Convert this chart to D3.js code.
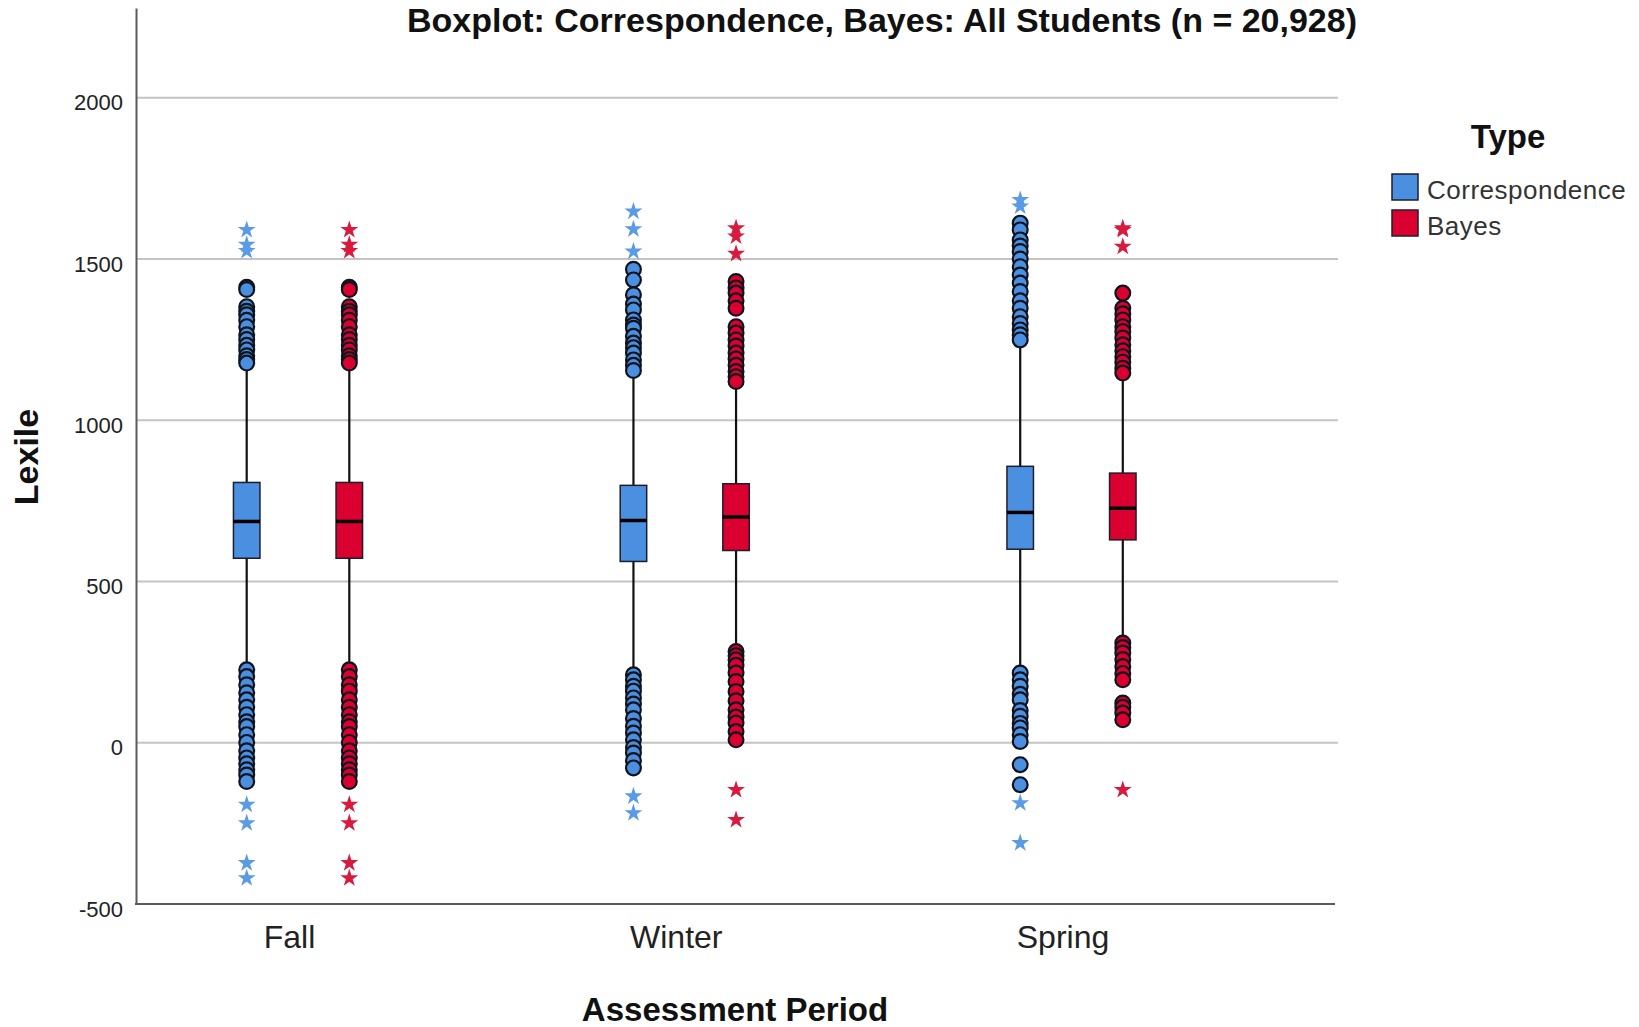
<!DOCTYPE html>
<html>
<head>
<meta charset="utf-8">
<script src="https://cdn.jsdelivr.net/npm/d3@7"></script>
<style>
  body { margin: 0; background: #fff; }
  text { font-family: "Liberation Sans", Arial, sans-serif; }
</style>
</head>
<body>
<div id="chart"></div>
<script>
const periods = ['Fall', 'Winter', 'Spring'];
const types = ['Correspondence', 'Bayes'];
const yTicks = [-500, 0, 500, 1000, 1500, 2000];

// box statistics, one value per period
const corrQ1 = [572, 562, 600];
const corrMedian = [686, 689, 714];
const corrQ3 = [807, 798, 857];
const corrLow = [240, 222, 222];
const corrHigh = [1165, 1148, 1244];

const bayesQ1 = [572, 596, 629];
const bayesMedian = [686, 700, 727];
const bayesQ3 = [807, 803, 836];
const bayesLow = [240, 300, 312];
const bayesHigh = [1165, 1115, 1143];

// outliers (circles), per period
const corrOutliers = [
  [1412, 1405, 1352, 1338, 1327, 1310, 1290, 1265, 1250, 1232, 1218, 1200, 1188, 1177,
   226, 205, 180, 155, 133, 110, 87, 65, 50, 25, 1, -25, -47, -65, -84, -100, -120],
  [1468, 1435, 1389, 1360, 1342, 1311, 1295, 1285, 1260, 1239, 1225, 1208, 1187, 1170, 1154,
   211, 195, 175, 160, 139, 120, 102, 75, 51, 30, 9, -15, -32, -55, -78],
  [1611, 1590, 1559, 1540, 1523, 1500, 1476, 1450, 1425, 1399, 1370, 1347, 1321, 1300, 1280, 1265, 1249,
   216, 195, 175, 150, 133, 100, 82, 60, 46, 25, 4, -68, -130],
];
const bayesOutliers = [
  [1412, 1405, 1352, 1338, 1327, 1310, 1290, 1265, 1250, 1232, 1218, 1200, 1188, 1177,
   226, 205, 180, 160, 133, 110, 87, 65, 50, 25, 1, -25, -47, -65, -84, -100, -120],
  [1430, 1410, 1394, 1370, 1347, 1290, 1270, 1249, 1230, 1208, 1190, 1170, 1151, 1135, 1120,
   283, 270, 257, 240, 216, 190, 159, 130, 102, 80, 61, 35, 9],
  [1394, 1347, 1330, 1311, 1290, 1275, 1255, 1234, 1215, 1197, 1180, 1161, 1146,
   309, 295, 278, 258, 236, 215, 195, 123, 110, 92, 71],
];

// extremes (stars), per period
const corrExtremes = [
  [1590, 1544, 1525, -192, -249, -373, -420],
  [1647, 1592, 1523, -166, -218],
  [1683, 1663, -187, -311],
];
const bayesExtremes = [
  [1590, 1544, 1525, -192, -249, -373, -420],
  [1595, 1570, 1516, -146, -239],
  [1595, 1590, 1538, -146],
];

const fills = { Correspondence: '#4a8fe0', Bayes: '#da0030' };
const starFills = { Correspondence: '#5b9be6', Bayes: '#d81a3e' };

const width = 1639;
const height = 1027;
const plotLeft = 136;
const plotRight = 1338;

const boxes = [];
const points = [];
periods.forEach(function (p, i) {
  boxes.push({ period: p, type: 'Correspondence', q1: corrQ1[i], med: corrMedian[i], q3: corrQ3[i], lo: corrLow[i], hi: corrHigh[i] });
  boxes.push({ period: p, type: 'Bayes', q1: bayesQ1[i], med: bayesMedian[i], q3: bayesQ3[i], lo: bayesLow[i], hi: bayesHigh[i] });
  corrOutliers[i].forEach((v) => points.push({ period: p, type: 'Correspondence', value: v, star: false }));
  bayesOutliers[i].forEach((v) => points.push({ period: p, type: 'Bayes', value: v, star: false }));
  corrExtremes[i].forEach((v) => points.push({ period: p, type: 'Correspondence', value: v, star: true }));
  bayesExtremes[i].forEach((v) => points.push({ period: p, type: 'Bayes', value: v, star: true }));
});

let svg = d3.select('#chart').append('svg').attr('width', width).attr('height', height);

let y = d3.scaleLinear().domain([-500, 2278]).range([904, 8]);
let x = d3.scalePoint().domain(periods).range([298, 1071.5]);
let xType = d3.scaleBand().domain(types).range([-102.6, 102.6]);
const boxW = 26.5;

function cx(d) {
  return x(d.period) + xType(d.type) + xType.bandwidth() / 2;
}

// gridlines
svg
  .append('g')
  .selectAll('line')
  .data(yTicks.filter((t) => t > -500))
  .enter()
  .append('line')
  .attr('x1', plotLeft)
  .attr('x2', plotRight)
  .attr('y1', (d) => y(d))
  .attr('y2', (d) => y(d))
  .attr('stroke', '#c4c4c4')
  .attr('stroke-width', 2);

// y axis
let yAxis = svg
  .append('g')
  .attr('transform', 'translate(' + plotLeft + ',0)')
  .call(
    d3
      .axisLeft(y)
      .tickValues(yTicks)
      .tickFormat((d) => String(d))
      .tickSize(0)
      .tickSizeOuter(0)
      .tickPadding(13),
  );
yAxis.select('.domain').attr('stroke', '#5a5a5a').attr('stroke-width', 2);
yAxis.selectAll('text').attr('font-size', 22).attr('fill', '#222').attr('dy', '0.55em');

// x axis
svg
  .append('line')
  .attr('x1', plotLeft - 1)
  .attr('x2', plotRight - 3)
  .attr('y1', y(-500))
  .attr('y2', y(-500))
  .attr('stroke', '#5a5a5a')
  .attr('stroke-width', 2);
let xAxis = svg
  .append('g')
  .attr('transform', 'translate(0,' + y(-500) + ')')
  .call(d3.axisBottom(x).tickSize(0).tickPadding(21));
xAxis.select('.domain').remove();
xAxis.selectAll('text').attr('font-size', 32).attr('fill', '#222').attr('dx', -9);

// whiskers
svg
  .append('g')
  .selectAll('line')
  .data(boxes)
  .enter()
  .append('line')
  .attr('x1', cx)
  .attr('x2', cx)
  .attr('y1', (d) => y(d.lo))
  .attr('y2', (d) => y(d.hi))
  .attr('stroke', '#111')
  .attr('stroke-width', 2.2);

// boxes
let boxG = svg.append('g').selectAll('g').data(boxes).enter().append('g');
boxG
  .append('rect')
  .attr('x', (d) => cx(d) - boxW / 2)
  .attr('width', boxW)
  .attr('y', (d) => y(d.q3))
  .attr('height', (d) => y(d.q1) - y(d.q3))
  .attr('fill', (d) => fills[d.type])
  .attr('stroke', '#1e1e2a')
  .attr('stroke-width', 1.5);
boxG
  .append('line')
  .attr('x1', (d) => cx(d) - boxW / 2)
  .attr('x2', (d) => cx(d) + boxW / 2)
  .attr('y1', (d) => y(d.med))
  .attr('y2', (d) => y(d.med))
  .attr('stroke', '#000')
  .attr('stroke-width', 3.5);

// outliers
svg
  .append('g')
  .selectAll('circle')
  .data(points.filter((d) => !d.star))
  .enter()
  .append('circle')
  .attr('cx', cx)
  .attr('cy', (d) => y(d.value))
  .attr('r', 7.4)
  .attr('fill', (d) => fills[d.type])
  .attr('stroke', '#10131c')
  .attr('stroke-width', 2.2);

// extremes
let star = d3.symbol().type(d3.symbolStar).size(100);
svg
  .append('g')
  .selectAll('path')
  .data(points.filter((d) => d.star))
  .enter()
  .append('path')
  .attr('d', star)
  .attr('transform', (d) => 'translate(' + cx(d) + ',' + y(d.value) + ')')
  .attr('fill', (d) => starFills[d.type]);

// titles
svg
  .append('text')
  .attr('x', 882)
  .attr('y', 32)
  .attr('text-anchor', 'middle')
  .attr('font-size', 34)
  .attr('font-weight', 'bold')
  .attr('fill', '#111')
  .text('Boxplot: Correspondence, Bayes: All Students (n = 20,928)');

svg
  .append('text')
  .attr('x', 735)
  .attr('y', 1021)
  .attr('text-anchor', 'middle')
  .attr('font-size', 33)
  .attr('font-weight', 'bold')
  .attr('fill', '#111')
  .text('Assessment Period');

svg
  .append('text')
  .attr('transform', 'translate(38,457) rotate(-90)')
  .attr('text-anchor', 'middle')
  .attr('font-size', 34)
  .attr('font-weight', 'bold')
  .attr('fill', '#111')
  .text('Lexile');

// legend
let legend = svg.append('g');
legend
  .append('text')
  .attr('x', 1508)
  .attr('y', 148)
  .attr('text-anchor', 'middle')
  .attr('font-size', 33)
  .attr('font-weight', 'bold')
  .attr('fill', '#111')
  .text('Type');
let items = legend
  .selectAll('g')
  .data(types)
  .enter()
  .append('g')
  .attr('transform', (d, i) => 'translate(1392,' + (174 + i * 36) + ')');
items
  .append('rect')
  .attr('width', 26)
  .attr('height', 26)
  .attr('fill', (d) => fills[d])
  .attr('stroke', '#1e1e2a')
  .attr('stroke-width', 1.5);
items
  .append('text')
  .attr('x', 35)
  .attr('y', 25)
  .attr('font-size', 26)
  .attr('letter-spacing', 0.5)
  .attr('fill', '#333')
  .text((d) => d);
</script>
</body>
</html>
